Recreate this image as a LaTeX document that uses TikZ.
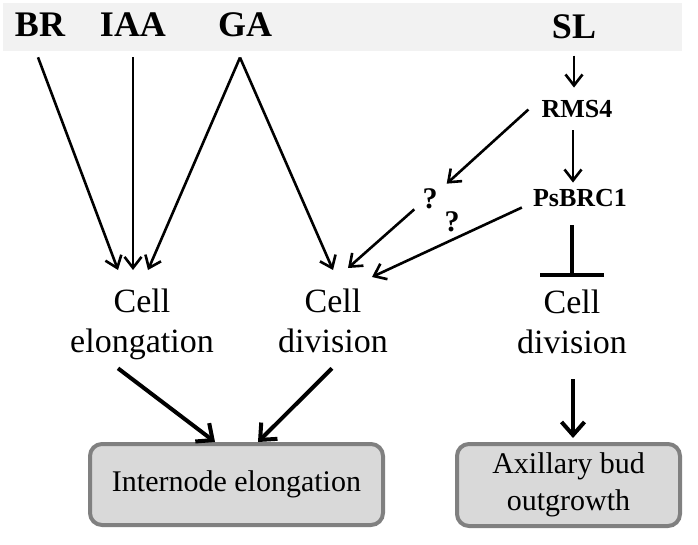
\documentclass[tikz,border=0pt]{standalone}
\usepackage{fontspec}
\setmainfont{Liberation Serif}
\usetikzlibrary{arrows.meta}
\definecolor{bandgray}{HTML}{F2F2F2}
\definecolor{boxfill}{HTML}{D9D9D9}
\definecolor{boxline}{HTML}{808080}
\begin{document}
\begin{tikzpicture}[x=1pt, y=-1pt]

    \tikzset{hormone/.style={inner sep=0, anchor=base, font=\fontsize{36}{40}\selectfont\bfseries}}
    \tikzset{gene/.style={inner sep=0, anchor=base, font=\fontsize{26}{30}\selectfont\bfseries}}
    \tikzset{qmark/.style={inner sep=0, font=\fontsize{30}{34}\selectfont\bfseries}}
    \tikzset{process/.style={inner sep=0, anchor=north, align=center, font=\fontsize{34}{40}\selectfont}}
    \tikzset{outcome/.style={draw=boxline, fill=boxfill, line width=4pt, rounded corners=12pt,
        align=center, font=\fontsize{30}{37}\selectfont}}
    \tikzset{arr/.style={line width=2.6pt, -{Straight Barb[length=11pt, width=17pt]}}}
    \tikzset{thickarr/.style={line width=4pt, -{Straight Barb[length=13pt, width=23pt]}}}
    \tikzset{inhibit/.style={line width=4pt, -{Bar[width=64pt]}}}

    \useasboundingbox (0,0) rectangle (698,545);
    \fill[bandgray] (3,3) rectangle (682,51);

    \node[hormone] (br) at ( 40, 37) {BR};
    \node[hormone] (iaa) at (133, 37) {IAA};
    \node[hormone] (ga) at (245, 37) {GA};
    \node[hormone] (sl) at (574, 39) {SL};

    \node[gene] (rms) at (577, 118) {RMS4};
    \node[gene] (psbrc) at (580, 207) {PsBRC1};
    \node[qmark] (q1) at (430, 199) {?};
    \node[qmark] (q2) at (452, 222) {?};

    \node[process] (cellel) at (142, 289) {Cell\\elongation};
    \node[process] (celldiv) at (333, 289) {Cell\\division};
    \node[process] (celldivr) at (572, 290) {Cell\\division};

    \node[outcome, minimum width=293pt, minimum height=81pt] (internode) at (236.5, 484.5) {\raisebox{-3pt}{Internode elongation}};
    \node[outcome, minimum width=223pt, minimum height=82pt] (axillary) at (568.5, 485) {\raisebox{-4pt}{Axillary bud}\\\raisebox{-4pt}{outgrowth}};

    \draw[arr] ([xshift=-2pt, yshift=-20pt]br.south) -- ([xshift=-24pt, yshift=19pt]cellel.north);
    \draw[arr] ([yshift=-20pt]iaa.south) -- ([xshift=-9pt, yshift=19pt]cellel.north);
    \draw[arr] ([xshift=-5pt, yshift=-20pt]ga.south) -- ([xshift=6pt, yshift=19pt]cellel.north);
    \draw[arr] ([xshift=-5pt, yshift=-20pt]ga.south) -- ([yshift=19pt]celldiv.north);

    \draw[arr] ([yshift=-16pt]sl.south) -- ([xshift=-3pt, yshift=13pt]rms.north);
    \draw[arr] ([xshift=-4pt, yshift=-12pt]rms.south) -- ([xshift=-7pt, yshift=7pt]psbrc.north);
    \draw[arr] ([xshift=-13pt]rms.west) -- ([xshift=9pt, yshift=5pt]q1.north east);
    \draw[arr] ([xshift=-8pt]q1.south west) -- ([xshift=15pt, yshift=21pt]celldiv.north);
    \draw[arr] ([xshift=-11pt, yshift=-9pt]psbrc.west) -- ([xshift=-16pt, yshift=12pt]celldiv.north east);
    \draw[inhibit] ([xshift=-8pt, yshift=-18pt]psbrc.south) -- ([yshift=13pt]celldivr.north);

    \draw[thickarr] ([xshift=-24pt, yshift=-8pt]cellel.south) -- ([xshift=-21.5pt]internode.north);
    \draw[thickarr] ([xshift=-1pt, yshift=-15pt]celldiv.south) -- ([xshift=21.5pt]internode.north);
    \draw[thickarr] ([xshift=1pt, yshift=-25pt]celldivr.south) -- ([xshift=4.5pt, yshift=4pt]axillary.north);
\end{tikzpicture}
\end{document}
